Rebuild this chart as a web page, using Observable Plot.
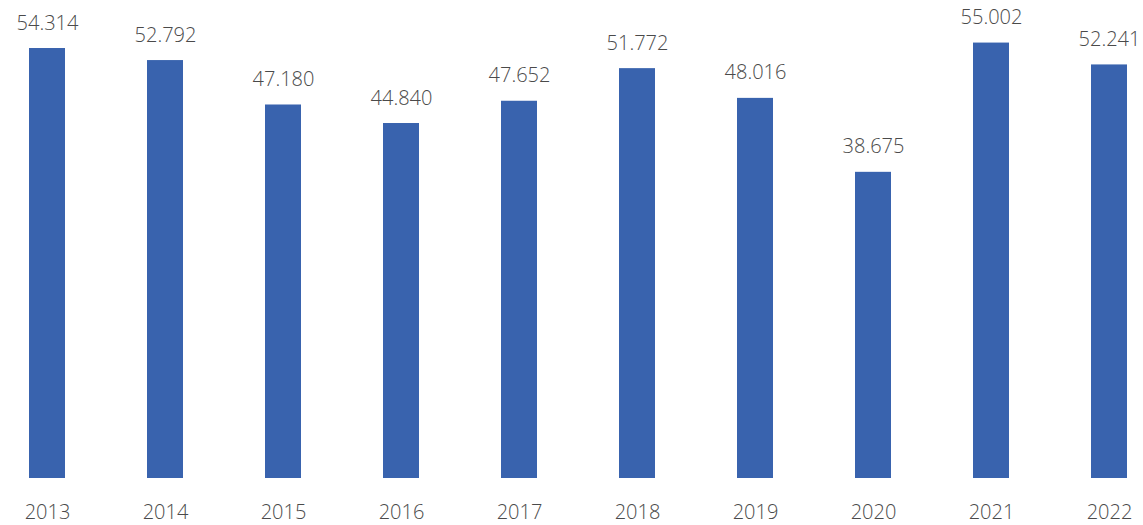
<!DOCTYPE html>
<html>
<head>
<meta charset="utf-8">
<script src="https://cdn.jsdelivr.net/npm/d3@7"></script>
<script src="https://cdn.jsdelivr.net/npm/@observablehq/plot@0.6"></script>
<style>
  html, body { margin: 0; padding: 0; background: #fff; }
  #chart svg { display: block; }
</style>
</head>
<body>
<div id="chart"></div>
<script>
const years = ["2013", "2014", "2015", "2016", "2017", "2018", "2019", "2020", "2021", "2022"];
const values = [54314, 52792, 47180, 44840, 47652, 51772, 48016, 38675, 55002, 52241];

const data = years.map((year, i) => ({year, value: values[i]}));
const fmt = d3.formatLocale({decimal: ",", thousands: ".", grouping: [3], currency: ["", " €"]}).format(",d");

const chart = Plot.plot({
  width: 1143,
  height: 525,
  marginLeft: 27.5,
  marginRight: 15,
  marginTop: 3,
  marginBottom: 47,
  style: {fontFamily: "'Open Sans', sans-serif", background: "#fff"},
  x: {domain: years, paddingInner: 0.696, paddingOuter: 0, label: null},
  y: {domain: [0, 60000], axis: null},
  marks: [
    Plot.barY(data, {x: "year", y: "value", fill: "#3963ae"}),
    Plot.text(data, {x: "year", y: "value", text: d => fmt(d.value), lineAnchor: "bottom", dy: -19, fontSize: 20, fill: "#4a4a4a", fontWeight: 300, letterSpacing: "0.5px"}),
    Plot.axisX({tickSize: 0, tickPadding: 26, fontSize: 20, color: "#4a4a4a", fontWeight: 300, letterSpacing: "0.5px"})
  ]
});
document.getElementById("chart").append(chart);
</script>
</body>
</html>
